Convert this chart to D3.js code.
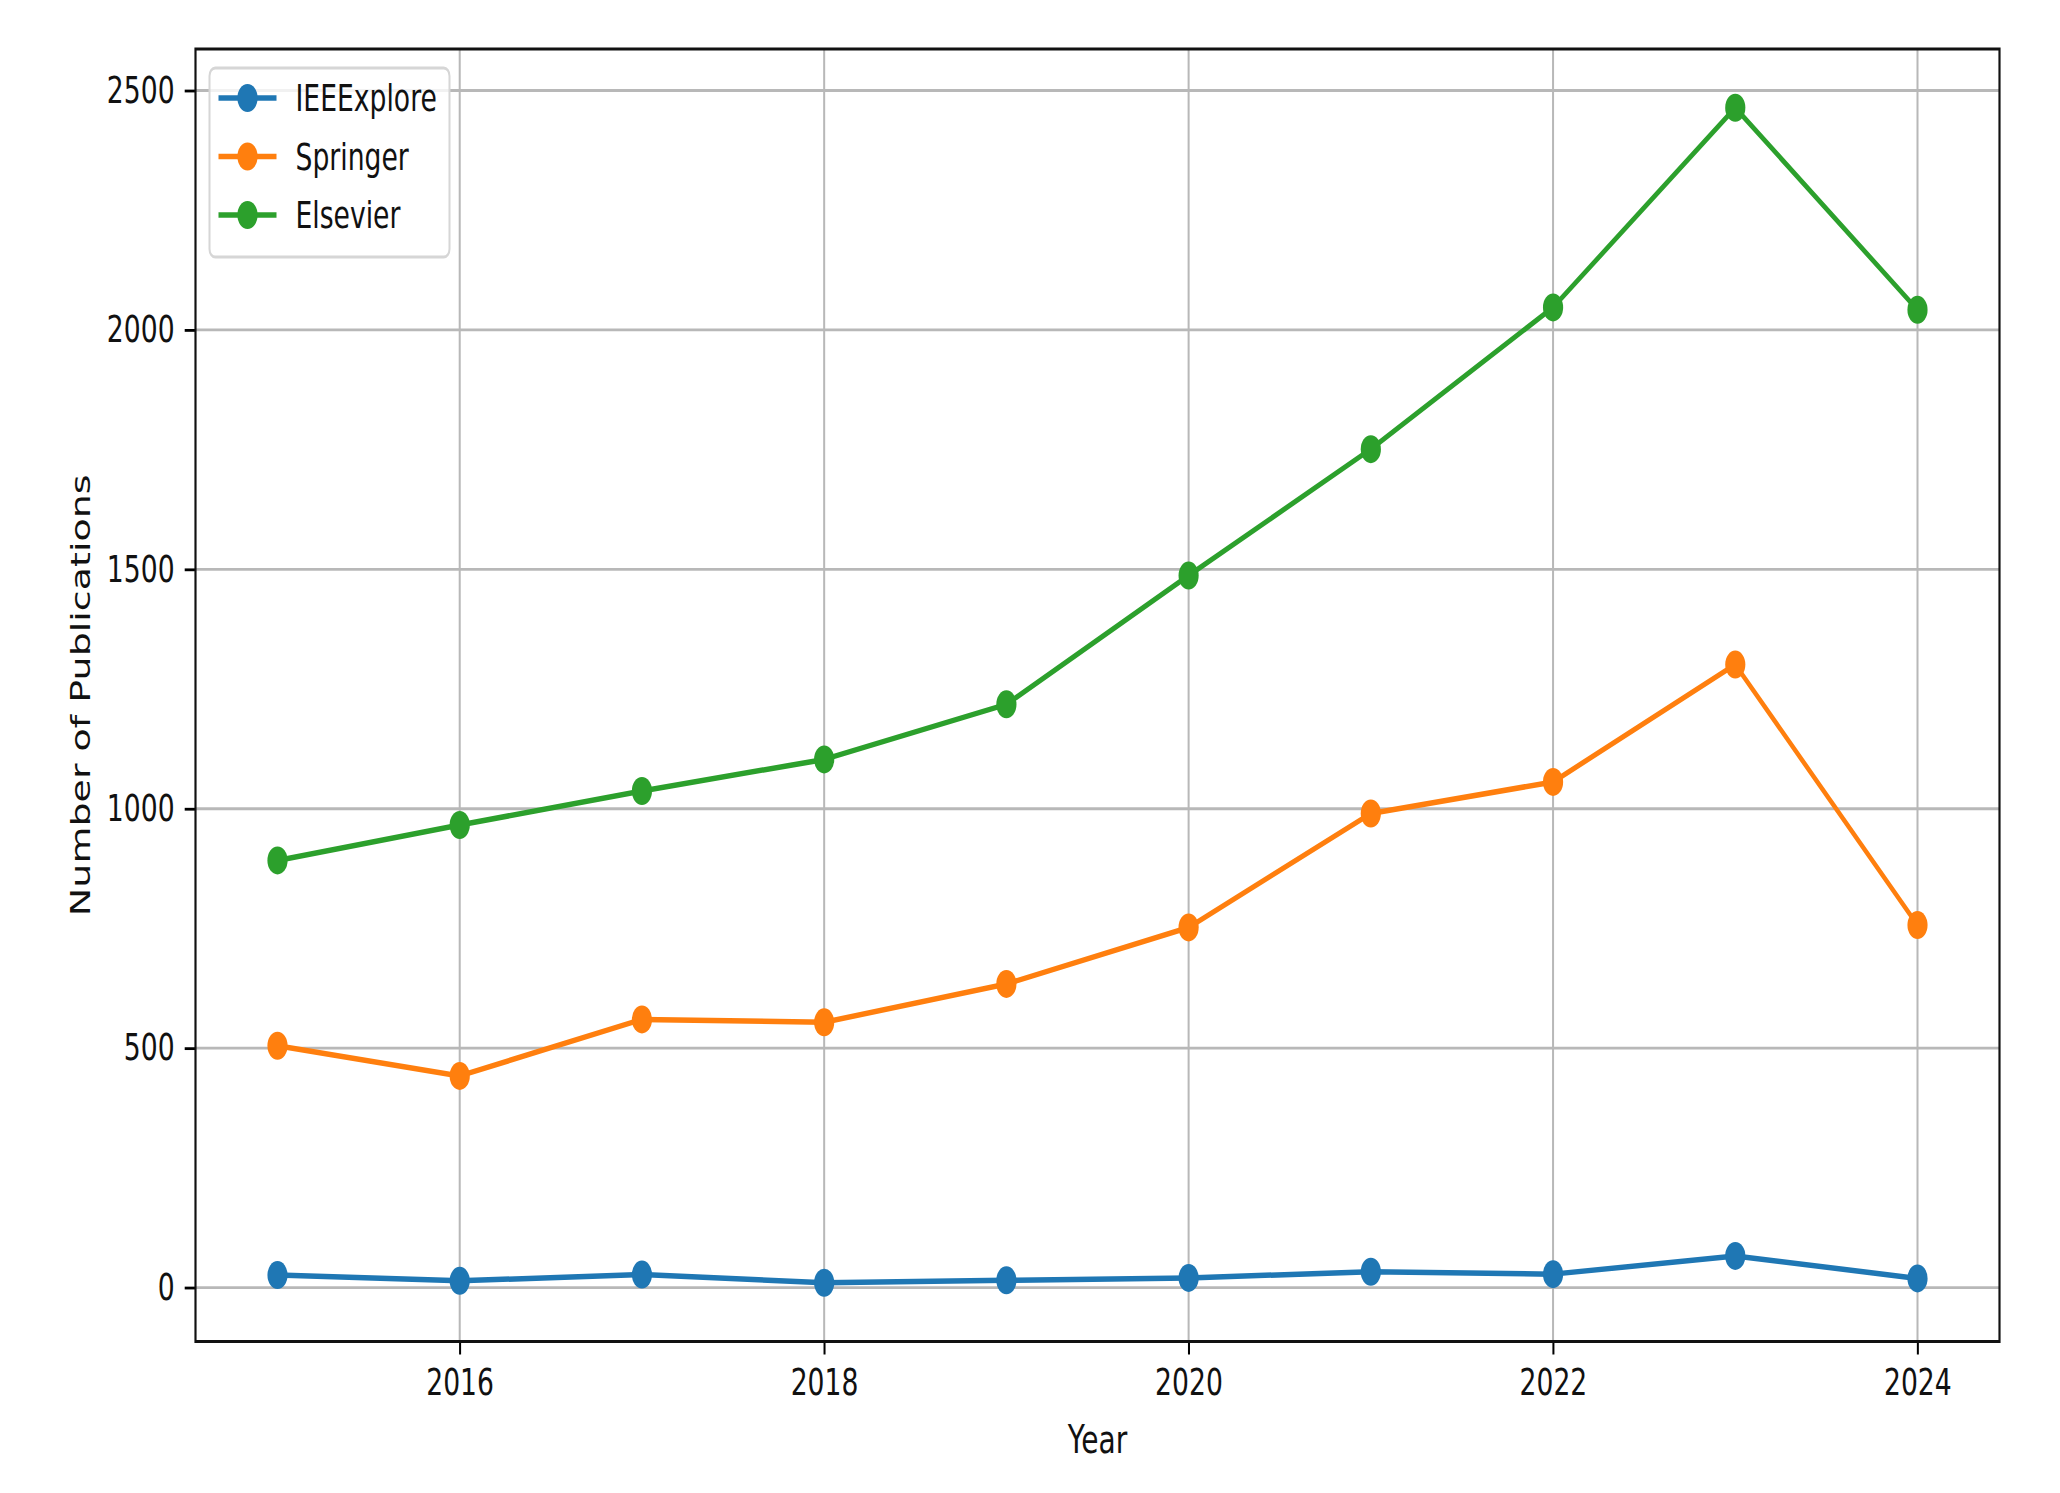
<!DOCTYPE html>
<html>
<head>
<meta charset="utf-8">
<script src="https://cdn.jsdelivr.net/npm/d3@7"></script>
<style>
  body { margin: 0; background: #fff; }
  text { font-family: "DejaVu Sans", sans-serif; fill: #111; }
</style>
</head>
<body>
<div id="chart"></div>
<script>
// data
var years = [2015, 2016, 2017, 2018, 2019, 2020, 2021, 2022, 2023, 2024];
var ieee = [26, 14, 27, 10, 15, 20, 33, 28, 66, 19];
var springer = [505, 442, 560, 554, 634, 752, 990, 1056, 1301, 757];
var elsevier = [892, 966, 1037, 1103, 1218, 1487, 1751, 2047, 2464, 2042];
var seriesNames = ["IEEExplore", "Springer", "Elsevier"];
var seriesColors = ["#1f77b4", "#ff7f0e", "#2ca02c"];
var xTicks = [2016, 2018, 2020, 2022, 2024];
var yTicks = [0, 500, 1000, 1500, 2000, 2500];

var W = 2060, H = 1493;

// the source figure was squeezed sideways, so draw it wide and squash it
var squash = 0.72;

// plot box in screen pixels, turned into inner units
var plotLeft = 195.5 / squash, plotRight = 1999.5 / squash;
var plotTop = 49, plotBottom = 1341.5;

var svg = d3.select("#chart")
            .append("svg")
            .attr("width", W)
            .attr("height", H);

var g = svg.append("g")
           .attr("transform", "scale(" + squash + ",1)");

//scales, with matplotlib style 5% padding
var xScale = d3.scaleLinear()
               .domain([d3.min(years) - 0.45, d3.max(years) + 0.45])
               .range([plotLeft, plotRight]);

var allVals = ieee.concat(springer, elsevier);
var yMin = d3.min(allVals), yMax = d3.max(allVals);
var pad = (yMax - yMin) * 0.05;
var yScale = d3.scaleLinear()
               .domain([yMin - pad, yMax + pad])
               .range([plotBottom, plotTop]);

//grid
g.append("g")
  .selectAll("line")
  .data(xTicks)
  .enter()
  .append("line")
  .attr("x1", function(d) { return xScale(d); })
  .attr("x2", function(d) { return xScale(d); })
  .attr("y1", plotTop)
  .attr("y2", plotBottom)
  .attr("stroke", "#b8b8b8")
  .attr("stroke-width", 2.8);

g.append("g")
  .selectAll("line")
  .data(yTicks)
  .enter()
  .append("line")
  .attr("x1", plotLeft)
  .attr("x2", plotRight)
  .attr("y1", function(d) { return yScale(d); })
  .attr("y2", function(d) { return yScale(d); })
  .attr("stroke", "#b8b8b8")
  .attr("stroke-width", 2.8);

//axes
var xAxis = d3.axisBottom(xScale)
              .tickValues(xTicks)
              .tickFormat(d3.format("d"))
              .tickSizeInner(13)
              .tickSizeOuter(0)
              .tickPadding(14);

var yAxis = d3.axisLeft(yScale)
              .tickValues(yTicks)
              .tickFormat(d3.format("d"))
              .tickSizeInner(15)
              .tickSizeOuter(0)
              .tickPadding(14);

var gx = g.append("g")
          .attr("transform", "translate(0," + plotBottom + ")")
          .call(xAxis);

var gy = g.append("g")
          .attr("transform", "translate(" + plotLeft + ",0)")
          .call(yAxis);

[gx, gy].forEach(function(a) {
  a.select(".domain").remove();
  a.selectAll(".tick line").attr("stroke", "#000").attr("stroke-width", 2.8);
  a.selectAll(".tick text")
   .attr("font-size", 37)
   .attr("font-family", "DejaVu Sans")
   .attr("fill", "#111");
});

//lines and markers
var line = d3.line()
             .x(function(d, i) { return xScale(years[i]); })
             .y(function(d) { return yScale(d); });

var series = [ieee, springer, elsevier];

series.forEach(function(s, k) {
  g.append("path")
   .datum(s)
   .attr("d", line)
   .attr("fill", "none")
   .attr("stroke", seriesColors[k])
   .attr("stroke-width", 5.5)
   .attr("stroke-linejoin", "round");

  g.append("g")
   .selectAll("circle")
   .data(s)
   .enter()
   .append("circle")
   .attr("cx", function(d, i) { return xScale(years[i]); })
   .attr("cy", function(d) { return yScale(d); })
   .attr("r", 14)
   .attr("fill", seriesColors[k]);
});

//frame
g.append("rect")
  .attr("x", plotLeft)
  .attr("y", plotTop)
  .attr("width", plotRight - plotLeft)
  .attr("height", plotBottom - plotTop)
  .attr("fill", "none")
  .attr("stroke", "#111")
  .attr("stroke-width", 3);

//axis labels
g.append("text")
  .attr("x", (plotLeft + plotRight) / 2)
  .attr("y", 1453)
  .attr("text-anchor", "middle")
  .attr("font-size", 39)
  .text("Year");

g.append("text")
  .attr("transform", "translate(" + (90 / squash) + "," + ((plotTop + plotBottom) / 2) + ") rotate(-90)")
  .attr("text-anchor", "middle")
  .attr("font-size", 38)
  .text("Number of Publications");

//legend
var lgX = plotLeft + 14 / squash, lgY = plotTop + 19;
var lgW = 240 / squash, lgH = 189;

var legend = g.append("g")
              .attr("transform", "translate(" + lgX + "," + lgY + ")");

legend.append("rect")
      .attr("width", lgW)
      .attr("height", lgH)
      .attr("rx", 8)
      .attr("fill", "#fff")
      .attr("fill-opacity", 0.8)
      .attr("stroke", "#d6d6d6")
      .attr("stroke-width", 2.8);

seriesNames.forEach(function(name, k) {
  var ry = 30 + k * 58.5;
  legend.append("line")
        .attr("x1", 9 / squash)
        .attr("x2", 67 / squash)
        .attr("y1", ry)
        .attr("y2", ry)
        .attr("stroke", seriesColors[k])
        .attr("stroke-width", 5.5);
  legend.append("circle")
        .attr("cx", 38 / squash)
        .attr("cy", ry)
        .attr("r", 14)
        .attr("fill", seriesColors[k]);
  legend.append("text")
        .attr("x", 86 / squash)
        .attr("y", ry + 13.5)
        .attr("font-size", 37)
        .text(name);
});
</script>
</body>
</html>
